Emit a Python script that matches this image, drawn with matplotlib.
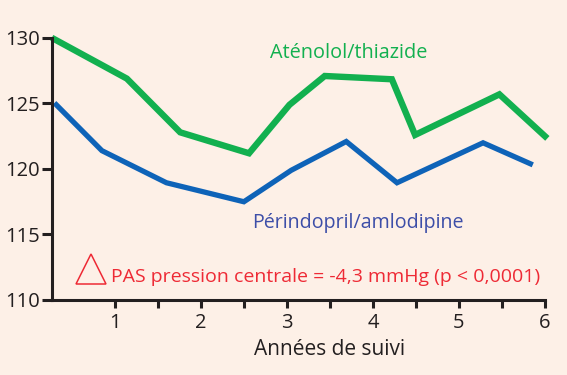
import matplotlib.pyplot as plt
from matplotlib.ticker import FixedLocator

# Pression artérielle systolique (mmHg)
annees_aten = [0.30, 1.14, 1.76, 2.56, 3.03, 3.44, 4.22, 4.49, 5.47, 6.00]
pas_aten = [129.9, 126.9, 122.8, 121.2, 124.9, 127.1, 126.85, 122.6, 125.7, 122.5]

annees_peri = [0.32, 0.85, 1.60, 2.50, 3.05, 3.69, 4.28, 5.28, 5.83]
pas_peri = [124.9, 121.4, 118.95, 117.5, 119.9, 122.1, 118.95, 122.0, 120.4]

yticks = [110, 115, 120, 125, 130]
xticks = [1, 2, 3, 4, 5, 6]

fond = '#fdf0e7'
vert = '#12b04f'
bleu = '#0e63b8'
bleu_txt = '#3d4ea8'
rouge = '#ee2a35'
noir = '#231f20'

plt.rcParams['font.family'] = ['Open Sans', 'DejaVu Sans']

fig = plt.figure(figsize=(5.67, 3.75), dpi=100, facecolor=fond)
ax = fig.add_axes([52 / 567, 0.2, 493 / 567, 262 / 375])
ax.set_facecolor(fond)

ax.plot(annees_aten, pas_aten, color=vert, lw=4.6, clip_on=False, solid_joinstyle='miter')
ax.plot(annees_peri, pas_peri, color=bleu, lw=3.8, clip_on=False, solid_joinstyle='miter')

ax.set_xlim(0.27, 6)
ax.set_ylim(110, 130)

for s in ['top', 'right']:
    ax.spines[s].set_visible(False)
for s in ['left', 'bottom']:
    ax.spines[s].set_linewidth(2.2)
    ax.spines[s].set_color(noir)

ax.set_yticks(yticks)
ax.xaxis.set_major_locator(FixedLocator(xticks))
ax.xaxis.set_minor_locator(FixedLocator([1.5, 2.5, 3.5, 4.5, 5.5]))
ax.tick_params(axis='y', length=7, width=2.2, color=noir, labelsize=14.5, pad=2, labelcolor=noir)
ax.tick_params(axis='x', which='both', length=6, width=2.2, color=noir, labelsize=14.5, pad=3, labelcolor=noir)

ax.set_xlabel('Années de suivi', fontsize=15, color=noir)
ax.xaxis.set_label_coords((330 - 52) / 493, -0.15)
ax.xaxis.label.set_va('top')

ax.text(3.72, 128.47, 'Aténolol/thiazide', color=vert, fontsize=14.3, ha='center', va='baseline')
ax.text(3.83, 115.5, 'Périndopril/amlodipine', color=bleu_txt, fontsize=14.1, ha='center', va='baseline')
ax.plot([0.727], [112.4], marker='^', ms=21, mfc='none', mec=rouge, mew=1.1, clip_on=False)
ax.text(0.956, 111.37, 'PAS pression centrale = -4,3 mmHg (p < 0,0001)', color=rouge,
        fontsize=14, ha='left', va='baseline')

plt.savefig('out.png', dpi=100, facecolor=fond)
